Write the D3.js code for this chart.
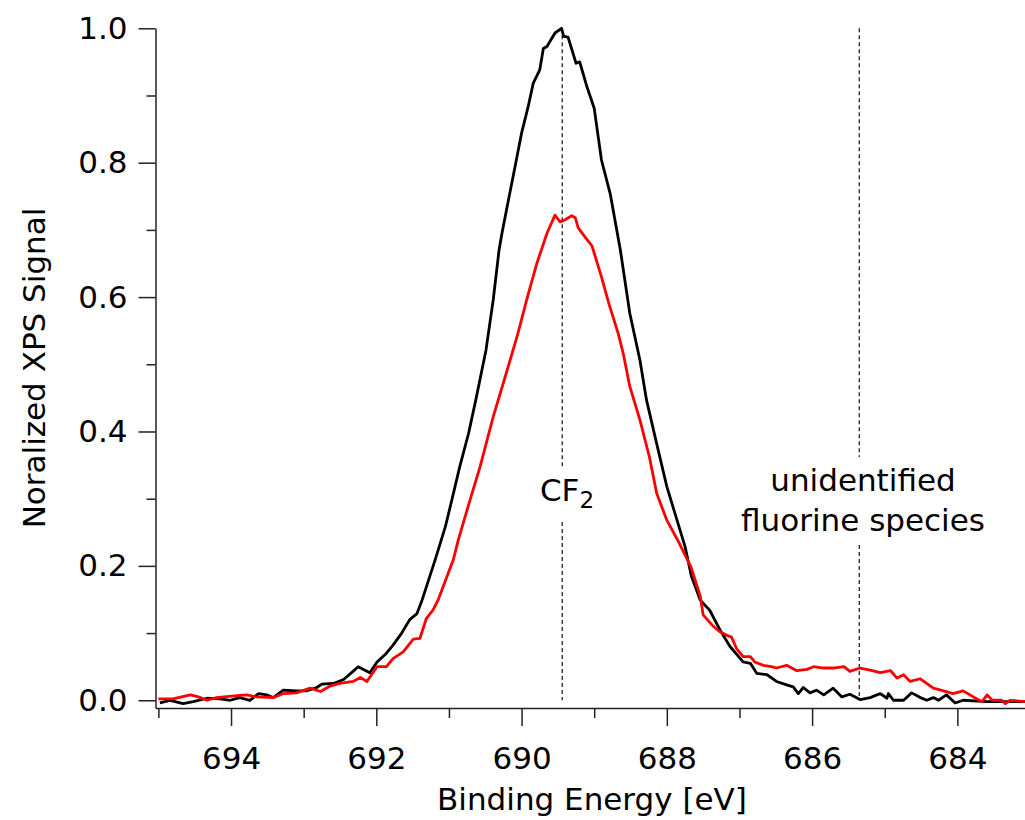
<!DOCTYPE html>
<html>
<head>
<meta charset="utf-8">
<script src="https://cdn.jsdelivr.net/npm/d3@7"></script>
<style>
  body { margin: 0; background: #fff; }
  svg { display: block; font-family: "DejaVu Sans", sans-serif; }
</style>
</head>
<body>
<svg id="chart" width="1025" height="820"></svg>
<script>
// F 1s spectra
const blackEnergy = [694.98, 694.84, 694.66, 694.52, 694.33, 694.15, 694.01, 693.88, 693.74, 693.62,
  693.51, 693.42, 693.28, 693.10, 692.96, 692.82, 692.75, 692.59, 692.45, 692.32,
  692.25, 692.09, 691.99, 691.86, 691.77, 691.65, 691.54, 691.44, 691.37, 691.19,
  691.05, 690.96, 690.85, 690.73, 690.63, 690.49, 690.39, 690.31, 690.27, 690.18,
  690.09, 690.00, 689.91, 689.84, 689.75, 689.70, 689.65, 689.54, 689.45, 689.42,
  689.36, 689.25, 689.20, 689.10, 689.00, 688.90, 688.78, 688.64, 688.51, 688.37,
  688.28, 688.14, 688.00, 687.86, 687.75, 687.66, 687.54, 687.41, 687.27, 687.13,
  686.95, 686.85, 686.76, 686.62, 686.49, 686.35, 686.26, 686.19, 686.12, 686.03,
  685.94, 685.84, 685.71, 685.59, 685.48, 685.34, 685.20, 685.06, 684.97, 684.95,
  684.88, 684.74, 684.63, 684.51, 684.42, 684.33, 684.26, 684.15, 684.03, 683.92,
  683.59, 683.07];
const blackSignal = [-0.004, 0.000, -0.005, -0.002, 0.003, 0.002, 0.000, 0.004, 0.000, 0.010,
  0.008, 0.004, 0.015, 0.014, 0.014, 0.019, 0.024, 0.025, 0.031, 0.043,
  0.050, 0.041, 0.057, 0.070, 0.082, 0.100, 0.120, 0.129, 0.149, 0.209,
  0.258, 0.298, 0.348, 0.397, 0.447, 0.521, 0.596, 0.670, 0.695, 0.745,
  0.794, 0.844, 0.883, 0.918, 0.938, 0.970, 0.973, 0.993, 1.000, 0.988,
  0.987, 0.948, 0.950, 0.913, 0.881, 0.804, 0.754, 0.670, 0.576, 0.506,
  0.447, 0.382, 0.318, 0.268, 0.229, 0.184, 0.149, 0.134, 0.105, 0.080,
  0.057, 0.055, 0.040, 0.038, 0.028, 0.023, 0.020, 0.010, 0.019, 0.011,
  0.015, 0.008, 0.018, 0.005, 0.009, 0.001, 0.004, 0.010, 0.003, 0.010,
  0.000, 0.000, 0.011, 0.004, 0.000, 0.004, 0.000, 0.008, -0.004, 0.000,
  -0.002, -0.002];

const redEnergy = [695.00, 694.80, 694.56, 694.45, 694.33, 694.20, 693.92, 693.78, 693.65, 693.42,
  693.28, 693.10, 692.91, 692.77, 692.64, 692.50, 692.32, 692.22, 692.13, 691.99,
  691.86, 691.77, 691.63, 691.49, 691.40, 691.31, 691.22, 691.15, 690.94, 690.87,
  690.71, 690.57, 690.39, 690.21, 690.05, 689.93, 689.79, 689.65, 689.54, 689.47,
  689.40, 689.31, 689.26, 689.22, 689.13, 689.03, 688.90, 688.80, 688.67, 688.60,
  688.51, 688.37, 688.24, 688.14, 688.00, 687.83, 687.67, 687.54, 687.50, 687.36,
  687.27, 687.18, 687.11, 687.04, 686.95, 686.85, 686.79, 686.67, 686.56, 686.49,
  686.35, 686.21,
  686.07, 685.98, 685.84, 685.71, 685.56, 685.48, 685.34, 685.20, 685.06, 684.92,
  684.83, 684.74, 684.65, 684.51, 684.33, 684.19, 684.06, 683.92, 683.78, 683.66,
  683.59, 683.52, 683.39, 683.34, 683.27, 683.07];
const redSignal = [0.002, 0.002, 0.008, 0.005, 0.000, 0.004, 0.007, 0.008, 0.005, 0.004,
  0.010, 0.011, 0.018, 0.013, 0.021, 0.025, 0.028, 0.034, 0.028, 0.050,
  0.050, 0.062, 0.072, 0.091, 0.092, 0.122, 0.134, 0.149, 0.209, 0.239,
  0.298, 0.348, 0.422, 0.487, 0.546, 0.596, 0.650, 0.695, 0.722, 0.712,
  0.715, 0.721, 0.718, 0.703, 0.690, 0.676, 0.630, 0.591, 0.546, 0.516,
  0.467, 0.417, 0.362, 0.308, 0.268, 0.234, 0.199, 0.155, 0.127, 0.110,
  0.102, 0.097, 0.094, 0.077, 0.065, 0.065, 0.057, 0.052, 0.050, 0.048,
  0.052, 0.044,
  0.046, 0.050, 0.048, 0.048, 0.050, 0.043, 0.048, 0.045, 0.041, 0.044,
  0.033, 0.038, 0.028, 0.032, 0.018, 0.014, 0.010, 0.014, 0.005, -0.002,
  0.008, 0.000, 0.000, -0.005, 0.000, -0.002];

const xMajorTicks = [694, 692, 690, 688, 686, 684];
const xMinorTicks = [695, 693, 691, 689, 687, 685, 683];
const yMajorTicks = [0.0, 0.2, 0.4, 0.6, 0.8, 1.0];
const yMinorTicks = [0.1, 0.3, 0.5, 0.7, 0.9];

const markerEnergy = [689.44, 685.35];

const svg = d3.select("#chart");
svg.append("rect").attr("width", 1025).attr("height", 820).attr("fill", "#fff");

const x = d3.scaleLinear().domain([695.04, 683.0]).range([155.5, 1030]);
const y = d3.scaleLinear().domain([-0.0115, 1.0]).range([708, 28.3]);

// dashed marker lines, with a gap where the labels sit
const gaps = [[467, 522], [457, 545]];
markerEnergy.forEach((e, i) => {
  const segs = [[y(1.0), gaps[i][0]], [gaps[i][1], y(0)]];
  segs.forEach(s => {
    svg.append("line")
      .attr("x1", x(e)).attr("x2", x(e))
      .attr("y1", s[0]).attr("y2", s[1])
      .attr("stroke", "#333")
      .attr("stroke-width", 1.4)
      .attr("stroke-dasharray", "4,3");
  });
});

// spectra
const line = d3.line().x(d => x(d[0])).y(d => y(d[1]));
const series = [
  { e: blackEnergy, s: blackSignal, color: "#000" },
  { e: redEnergy, s: redSignal, color: "#ff0000" }
];
series.forEach(ser => {
  svg.append("path")
    .datum(ser.e.map((v, i) => [v, ser.s[i]]))
    .attr("fill", "none")
    .attr("stroke", ser.color)
    .attr("stroke-width", 2.8)
    .attr("stroke-linejoin", "round")
    .attr("d", line);
});

// axes
const fontSize = 31;
const xAxis = svg.append("g").attr("transform", "translate(0,708)");
xAxis.call(d3.axisBottom(x).tickValues(xMinorTicks).tickSize(10).tickSizeOuter(0).tickFormat(""));
xAxis.append("g").call(d3.axisBottom(x).tickValues(xMajorTicks).tickSize(18).tickSizeOuter(0).tickPadding(21).tickFormat(d3.format("d")))
  .select(".domain").remove();

const yAxis = svg.append("g").attr("transform", "translate(155.5,0)");
yAxis.call(d3.axisLeft(y).tickValues(yMinorTicks).tickSize(9).tickSizeOuter(0).tickFormat(""));
yAxis.append("g").call(d3.axisLeft(y).tickValues(yMajorTicks).tickSize(17).tickSizeOuter(0).tickPadding(11).tickFormat(d3.format(".1f")))
  .select(".domain").remove();

svg.selectAll(".domain").attr("stroke", "#222").attr("stroke-width", 1.5);
svg.selectAll(".tick line").attr("stroke", "#222").attr("stroke-width", 1.5);
svg.selectAll(".tick text")
  .attr("font-size", fontSize)
  .attr("font-family", "DejaVu Sans, sans-serif")
  .attr("fill", "#000");

// axis titles
svg.append("text")
  .attr("x", 592).attr("y", 810)
  .attr("text-anchor", "middle")
  .attr("font-size", fontSize)
  .text("Binding Energy [eV]");

svg.append("text")
  .attr("transform", "translate(45,368) rotate(-90)")
  .attr("text-anchor", "middle")
  .attr("font-size", fontSize)
  .text("Noralized XPS Signal");

// annotations
const cf = svg.append("text")
  .attr("x", 567).attr("y", 501)
  .attr("text-anchor", "middle")
  .attr("font-size", fontSize);
cf.append("tspan").text("CF");
cf.append("tspan").attr("font-size", 23).attr("dy", 7).text("2");

svg.append("text")
  .attr("x", 863).attr("y", 491)
  .attr("text-anchor", "middle")
  .attr("font-size", fontSize)
  .text("unidentified");
svg.append("text")
  .attr("x", 863).attr("y", 531)
  .attr("text-anchor", "middle")
  .attr("font-size", fontSize)
  .text("fluorine species");
</script>
</body>
</html>
